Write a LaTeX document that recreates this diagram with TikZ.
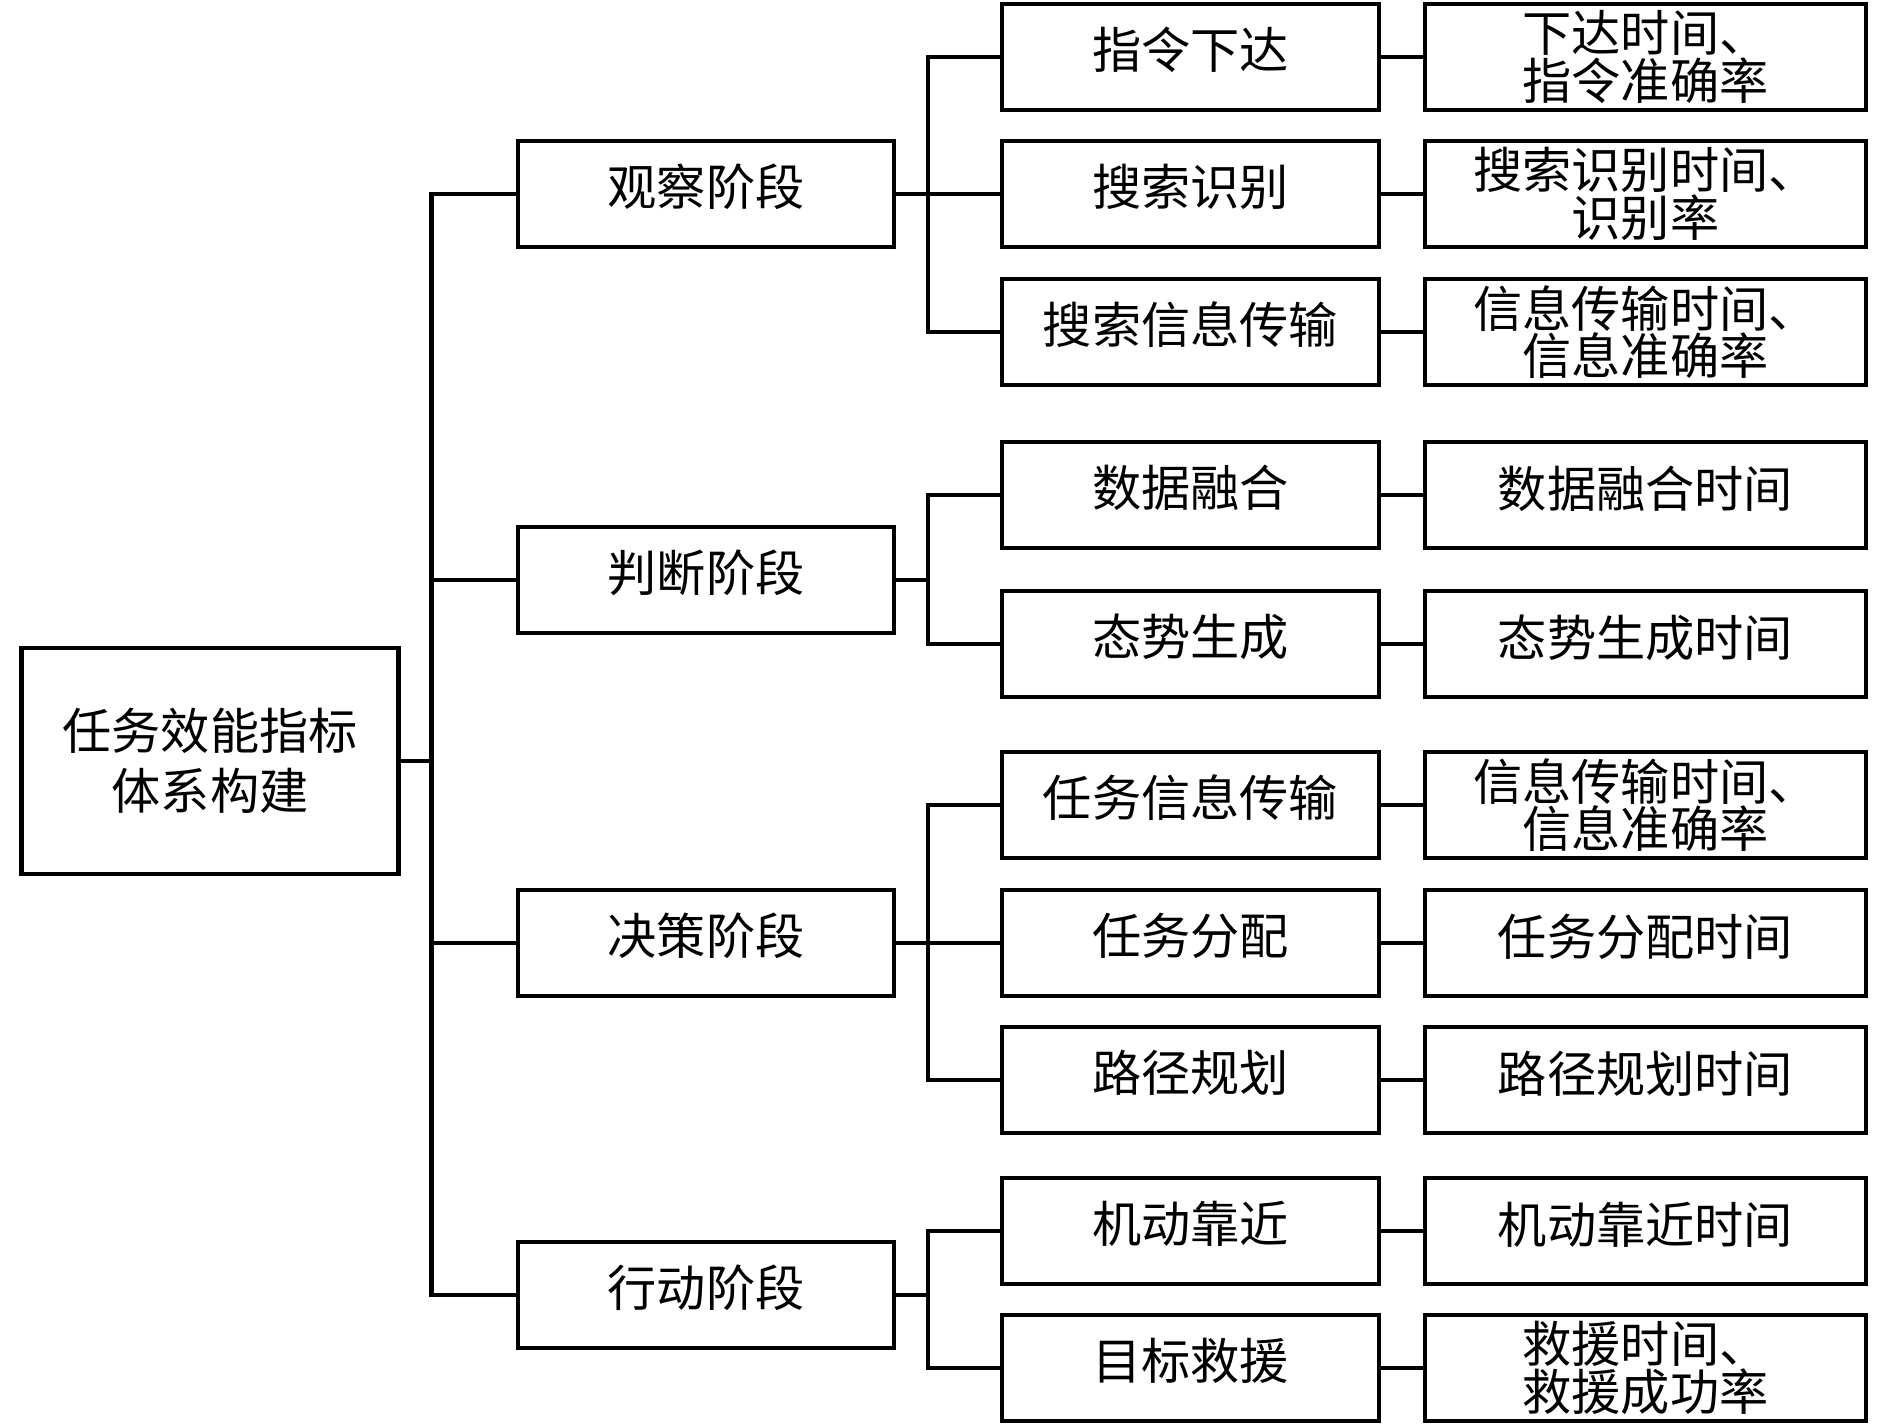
\documentclass[tikz,border=0pt]{standalone}
\usepackage{fontspec}
\newfontfamily\cjk{Noto Sans CJK SC}
\usetikzlibrary{positioning}

\begin{document}
\begin{tikzpicture}[
    box/.style={draw, line width=1.2pt, rectangle, inner sep=0pt, align=center,
                font=\cjk\fontsize{14pt}{13.5pt}\selectfont},
    rootbox/.style={box, minimum width=3.77cm, minimum height=2.26cm,
                font=\cjk\fontsize{14pt}{17pt}\selectfont},
    stagebox/.style={box, minimum width=3.76cm, minimum height=1.06cm, text depth=0.18cm},
    itembox/.style={box, minimum width=3.77cm, minimum height=1.06cm, text depth=0.18cm},
    metricbox/.style={box, minimum width=4.41cm, minimum height=1.06cm},
    metricone/.style={metricbox, text depth=0.16cm},
    link/.style={line width=1.2pt}
]
            \useasboundingbox (0,0) rectangle (18.9,14.25);

            % Root
            \node[rootbox] (root) at (2.10,6.64) {任务效能指标\\体系构建};

            % Stages
            \node[stagebox] (obs) at (7.06,12.31) {观察阶段};
            \node[stagebox] (jud) at (7.06,8.45) {判断阶段};
            \node[stagebox] (dec) at (7.06,4.82) {决策阶段};
            \node[stagebox] (act) at (7.06,1.30) {行动阶段};

            % Items
            \node[itembox] (m1) at (11.905,13.68) {指令下达};
            \node[itembox] (m2) at (11.905,12.31) {搜索识别};
            \node[itembox] (m3) at (11.905,10.93) {搜索信息传输};
            \node[itembox] (m4) at (11.905,9.30) {数据融合};
            \node[itembox] (m5) at (11.905,7.81) {态势生成};
            \node[itembox] (m6) at (11.905,6.20) {任务信息传输};
            \node[itembox] (m7) at (11.905,4.82) {任务分配};
            \node[itembox] (m8) at (11.905,3.45) {路径规划};
            \node[itembox] (m9) at (11.905,1.94) {机动靠近};
            \node[itembox] (m10) at (11.905,0.57) {目标救援};

            % Metrics
            \node[metricbox] (k1) at (16.455,13.68) {下达时间、\\指令准确率};
            \node[metricbox] (k2) at (16.455,12.31) {搜索识别时间、\\识别率};
            \node[metricbox] (k3) at (16.455,10.93) {信息传输时间、\\信息准确率};
            \node[metricone] (k4) at (16.455,9.30) {数据融合时间};
            \node[metricone] (k5) at (16.455,7.81) {态势生成时间};
            \node[metricbox] (k6) at (16.455,6.20) {信息传输时间、\\信息准确率};
            \node[metricone] (k7) at (16.455,4.82) {任务分配时间};
            \node[metricone] (k8) at (16.455,3.45) {路径规划时间};
            \node[metricone] (k9) at (16.455,1.94) {机动靠近时间};
            \node[metricbox] (k10) at (16.455,0.57) {救援时间、\\救援成功率};

            % Trunk and buses
            \coordinate (trunk) at (4.315,0);
            \coordinate (bus) at (9.28,0);

            \draw[link] (root.east) -- (root.east -| trunk);
            \draw[link] (obs.west) -- (obs.west -| trunk) |- (act.west);
            \draw[link] (jud.west) -- (jud.west -| trunk);
            \draw[link] (dec.west) -- (dec.west -| trunk);

            \draw[link] (obs.east) -- (obs.east -| bus);
            \draw[link] (m1.west) -- (m1.west -| bus) |- (m3.west);
            \draw[link] (m2.west) -- (m2.west -| bus);

            \draw[link] (jud.east) -- (jud.east -| bus);
            \draw[link] (m4.west) -- (m4.west -| bus) |- (m5.west);

            \draw[link] (dec.east) -- (dec.east -| bus);
            \draw[link] (m6.west) -- (m6.west -| bus) |- (m8.west);
            \draw[link] (m7.west) -- (m7.west -| bus);

            \draw[link] (act.east) -- (act.east -| bus);
            \draw[link] (m9.west) -- (m9.west -| bus) |- (m10.west);

            % Item to metric
            \foreach \i in {1,...,10}
                \draw[link] (m\i.east) -- (k\i.west);
        \end{tikzpicture}
\end{document}
